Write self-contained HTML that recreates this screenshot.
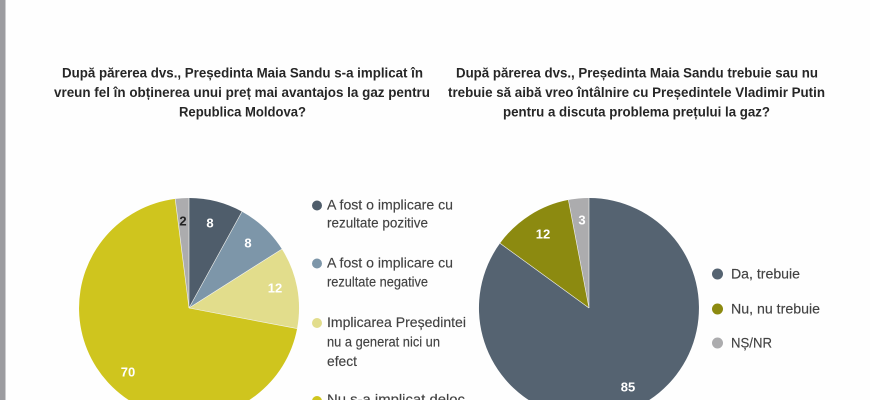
<!DOCTYPE html>
<html>
<head>
<meta charset="utf-8">
<style>
html,body{margin:0;padding:0;background:#fefefe;}
body{width:870px;height:400px;overflow:hidden;position:relative;}
svg{display:block;}
.t{font-family:"Liberation Sans",sans-serif;font-weight:bold;font-size:13.5px;fill:#262626;}
.l{font-family:"Liberation Sans",sans-serif;font-size:13.8px;fill:#424242;stroke:#424242;stroke-width:0.15px;}
.v{font-family:"Liberation Sans",sans-serif;font-weight:bold;font-size:13px;fill:#fff;text-anchor:middle;}
</style>
</head>
<body>
<svg width="870" height="400" viewBox="0 0 870 400" xmlns="http://www.w3.org/2000/svg">
<rect x="0" y="0" width="870" height="400" fill="#fefefe"/>
<rect x="0" y="0" width="5.5" height="400" fill="#9c9ca0"/>

<!-- Left title -->
<text class="t" x="62" y="77.5" textLength="361" lengthAdjust="spacingAndGlyphs">După părerea dvs., Președinta Maia Sandu s-a implicat în</text>
<text class="t" x="54" y="97" textLength="376" lengthAdjust="spacingAndGlyphs">vreun fel în obținerea unui preț mai avantajos la gaz pentru</text>
<text class="t" x="179" y="116.5" textLength="127" lengthAdjust="spacingAndGlyphs">Republica Moldova?</text>

<!-- Right title -->
<text class="t" x="456" y="77.5" textLength="362" lengthAdjust="spacingAndGlyphs">După părerea dvs., Președinta Maia Sandu trebuie sau nu</text>
<text class="t" x="448" y="97" textLength="377" lengthAdjust="spacingAndGlyphs">trebuie să aibă vreo întâlnire cu Președintele Vladimir Putin</text>
<text class="t" x="503" y="116.5" textLength="267" lengthAdjust="spacingAndGlyphs">pentru a discuta problema prețului la gaz?</text>

<!-- Left pie -->
<path d="M189,308 L189,198 A110,110 0 0 1 242,211.6 Z" fill="#4f5d6b"/>
<path d="M189,308 L242,211.6 A110,110 0 0 1 281.9,249.1 Z" fill="#7d96a9"/>
<path d="M189,308 L281.9,249.1 A110,110 0 0 1 297.1,328.6 Z" fill="#e2dd8c"/>
<path d="M189,308 L297.1,328.6 A110,110 0 1 1 175.2,198.9 Z" fill="#cfc51e"/>
<path d="M189,308 L175.2,198.9 A110,110 0 0 1 189,198 Z" fill="#acacae"/>
<g stroke="#f4f4f0" stroke-width="0.6" fill="none">
<line x1="189" y1="308" x2="189" y2="198"/>
<line x1="189" y1="308" x2="242" y2="211.6"/>
<line x1="189" y1="308" x2="281.9" y2="249.1"/>
<line x1="189" y1="308" x2="297.1" y2="328.6"/>
<line x1="189" y1="308" x2="175.2" y2="198.9"/>
</g>

<text class="v" x="210" y="227.5">8</text>
<text class="v" x="248" y="247.5">8</text>
<text class="v" x="275" y="292.5">12</text>
<text class="v" x="128" y="376.5">70</text>
<text class="v" x="183" y="225.5" style="fill:#222">2</text>

<!-- Left legend -->
<circle cx="317" cy="205.5" r="5" fill="#4f5d6b"/>
<text class="l" x="327" y="209.5" textLength="126" lengthAdjust="spacingAndGlyphs">A fost o implicare cu</text>
<text class="l" x="327" y="227.5" textLength="101" lengthAdjust="spacingAndGlyphs">rezultate pozitive</text>

<circle cx="317" cy="263.5" r="5" fill="#7d96a9"/>
<text class="l" x="327" y="267.5" textLength="126" lengthAdjust="spacingAndGlyphs">A fost o implicare cu</text>
<text class="l" x="327" y="286.5" textLength="101" lengthAdjust="spacingAndGlyphs">rezultate negative</text>

<circle cx="317" cy="323" r="5" fill="#e2dd8c"/>
<text class="l" x="327" y="327" textLength="139" lengthAdjust="spacingAndGlyphs">Implicarea Președintei</text>
<text class="l" x="327" y="346.5" textLength="113" lengthAdjust="spacingAndGlyphs">nu a generat nici un</text>
<text class="l" x="327" y="366" textLength="30" lengthAdjust="spacingAndGlyphs">efect</text>

<circle cx="317" cy="401" r="5" fill="#cfc51e"/>
<text class="l" x="327" y="404" textLength="138" lengthAdjust="spacingAndGlyphs">Nu s-a implicat deloc</text>

<!-- Right pie -->
<path d="M589,308 L589,198 A110,110 0 1 1 500,243.3 Z" fill="#556371"/>
<path d="M589,308 L500,243.3 A110,110 0 0 1 568.4,199.9 Z" fill="#8c8a10"/>
<path d="M589,308 L568.4,199.9 A110,110 0 0 1 589,198 Z" fill="#acacae"/>
<g stroke="#f4f4f0" stroke-width="0.6" fill="none">
<line x1="589" y1="308" x2="589" y2="198"/>
<line x1="589" y1="308" x2="500" y2="243.3"/>
<line x1="589" y1="308" x2="568.4" y2="199.9"/>
</g>

<text class="v" x="582" y="224.5">3</text>
<text class="v" x="543" y="238.5">12</text>
<text class="v" x="628" y="391.5">85</text>

<!-- Right legend -->
<circle cx="717.5" cy="274" r="5.5" fill="#556371"/>
<text class="l" x="731" y="278.5" textLength="69" lengthAdjust="spacingAndGlyphs">Da, trebuie</text>
<circle cx="717.5" cy="309" r="5.5" fill="#8c8a10"/>
<text class="l" x="731" y="313.5" textLength="89" lengthAdjust="spacingAndGlyphs">Nu, nu trebuie</text>
<circle cx="717.5" cy="343" r="5.5" fill="#acacae"/>
<text class="l" x="731" y="347.5" textLength="41" lengthAdjust="spacingAndGlyphs">NȘ/NR</text>
</svg>
</body>
</html>
